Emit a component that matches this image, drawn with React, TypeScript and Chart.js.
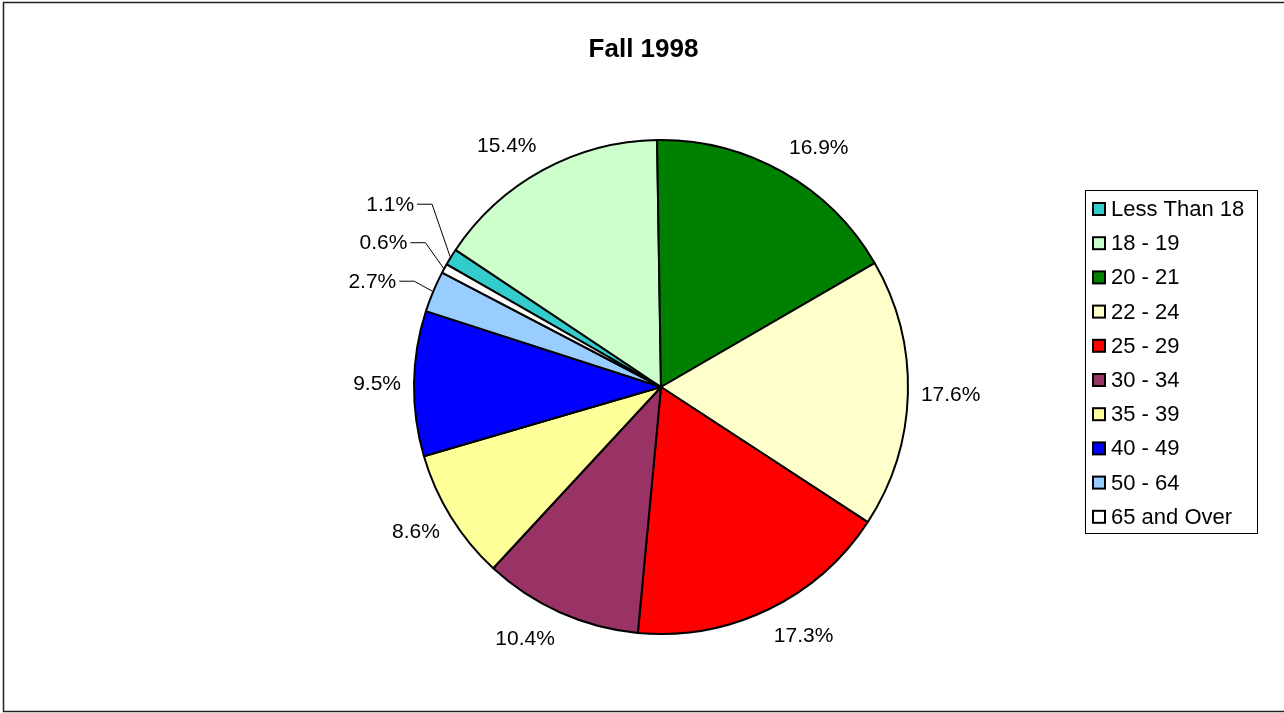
import React, { useEffect, useRef } from "react";
import { Chart, registerables } from "chart.js";

Chart.register(...registerables);

const chartTitle = "Fall 1998";
const categories = [
  "Less Than 18",
  "18 - 19",
  "20 - 21",
  "22 - 24",
  "25 - 29",
  "30 - 34",
  "35 - 39",
  "40 - 49",
  "50 - 64",
  "65 and Over",
];
const percentages = [1.1, 15.4, 16.9, 17.6, 17.3, 10.4, 8.6, 9.5, 2.7, 0.6];
const sliceColors = [
  "#33CCCC",
  "#CCFFCC",
  "#008000",
  "#FFFFCC",
  "#FF0000",
  "#993366",
  "#FFFF99",
  "#0000FF",
  "#99CCFF",
  "#FFFFFF",
];

const FONT = 'Arial, "Liberation Sans", sans-serif';

const overlayPlugin = {
  id: "overlay",
  afterDraw(chart: any) {
    const ctx = chart.ctx as CanvasRenderingContext2D;
    ctx.save();

    // outer frame
    ctx.strokeStyle = "#222";
    ctx.lineWidth = 1.5;
    ctx.strokeRect(3.5, 2.5, 1300, 709);

    // title
    ctx.fillStyle = "#000";
    ctx.font = `bold 26px ${FONT}`;
    ctx.textAlign = "center";
    ctx.textBaseline = "middle";
    ctx.fillText(chartTitle, 643.5, 50);

    // data labels
    const meta = chart.getDatasetMeta(0);
    ctx.font = `21px ${FONT}`;
    const values: number[] = chart.data.datasets[0].data;
    const items = meta.data.map((arc: any, i: number) => {
      const p = arc.getProps(["x", "y", "startAngle", "endAngle", "outerRadius"], true);
      const mid = (p.startAngle + p.endAngle) / 2;
      const dx = Math.cos(mid);
      const dy = Math.sin(mid);
      const text = values[i].toFixed(1) + "%";
      const w = ctx.measureText(text).width;
      const r = p.outerRadius + 13;
      const small = values[i] < 3;
      const edgeX = p.x + (p.outerRadius + 1) * dx;
      const edgeY = p.y + (p.outerRadius + 1) * dy;
      let cx = p.x + r * dx + Math.sign(dx) * (w / 2);
      let cy = p.y + r * dy + dy * 15;
      if (small) {
        cx = dx < 0 ? edgeX - 36 - w / 2 : edgeX + 36 + w / 2;
      }
      return { text, w, cx, cy, small, edgeX, edgeY, side: dx < 0 ? -1 : 1 };
    });

    // spread small labels vertically (upwards) to avoid overlap
    for (const side of [-1, 1]) {
      const group = items
        .filter((it: any) => it.small && it.side === side)
        .sort((a: any, b: any) => b.cy - a.cy);
      for (let k = 1; k < group.length; k++) {
        const prev = group[k - 1];
        const cur = group[k];
        if (prev.cy - cur.cy < 38.5) cur.cy = prev.cy - 38.5;
      }
    }

    ctx.textAlign = "center";
    ctx.textBaseline = "middle";
    for (const it of items) {
      ctx.fillStyle = "#000";
      ctx.fillText(it.text, it.cx, it.cy + 1);
      if (it.small) {
        const elbowX = it.side < 0 ? it.edgeX - 18 : it.edgeX + 18;
        const startX = it.side < 0 ? it.cx + it.w / 2 + 3 : it.cx - it.w / 2 - 3;
        ctx.strokeStyle = "#000";
        ctx.lineWidth = 1;
        ctx.beginPath();
        ctx.moveTo(startX, it.cy + 0.5);
        ctx.lineTo(elbowX, it.cy + 0.5);
        ctx.lineTo(it.edgeX, it.edgeY);
        ctx.stroke();
      }
    }

    // legend
    const lx = 1085.5;
    const ly = 190.5;
    const lw = 172;
    const lh = 343;
    ctx.strokeStyle = "#000";
    ctx.lineWidth = 1;
    ctx.strokeRect(lx, ly, lw, lh);
    ctx.font = `22px ${FONT}`;
    ctx.textAlign = "left";
    ctx.textBaseline = "middle";
    const labels: string[] = chart.data.labels;
    const colors: string[] = chart.data.datasets[0].backgroundColor;
    labels.forEach((lab, i) => {
      const rowY = 209 + i * 34.2;
      ctx.fillStyle = colors[i];
      ctx.fillRect(1093, rowY - 6, 12, 12);
      ctx.strokeStyle = "#000";
      ctx.lineWidth = 2;
      ctx.strokeRect(1093, rowY - 6, 12, 12);
      ctx.fillStyle = "#000";
      ctx.fillText(lab, 1111, rowY + 1);
    });

    ctx.restore();
  },
};

export default function App() {
  const canvasRef = useRef<HTMLCanvasElement | null>(null);

  useEffect(() => {
    const canvas = canvasRef.current;
    if (!canvas) return;
    const chart = new Chart(canvas, {
      type: "pie",
      data: {
        labels: categories,
        datasets: [
          {
            data: percentages,
            backgroundColor: sliceColors,
            borderColor: "#000",
            borderWidth: 2,
          },
        ],
      },
      options: {
        responsive: false,
        animation: false,
        devicePixelRatio: 1,
        events: [],
        rotation: -60.25,
        radius: 247,
        layout: { padding: { top: 70, bottom: 9, left: 40, right: 2 } },
        plugins: {
          legend: { display: false },
          title: { display: false },
          tooltip: { enabled: false },
        },
      } as any,
      plugins: [overlayPlugin],
    });
    return () => chart.destroy();
  }, []);

  return (
    <div style={{ position: "fixed", left: 0, top: 0, width: 1284, height: 713, background: "#fff" }}>
      <canvas ref={canvasRef} width={1284} height={713} style={{ display: "block", width: 1284, height: 713 }} />
    </div>
  );
}
